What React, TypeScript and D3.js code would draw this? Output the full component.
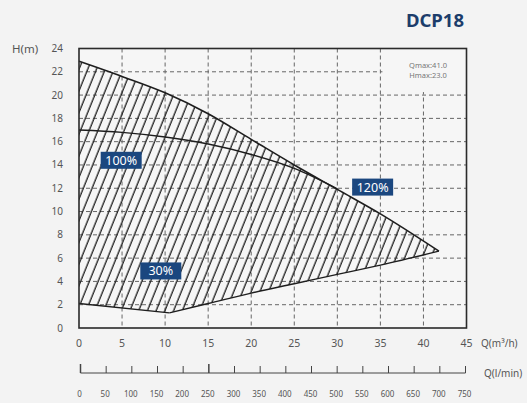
import React from "react";
import * as d3 from "d3";

const qTicks = [0, 5, 10, 15, 20, 25, 30, 35, 40, 45];
const hTicks = [0, 2, 4, 6, 8, 10, 12, 14, 16, 18, 20, 22, 24];
const lminTicks = [0, 50, 100, 150, 200, 250, 300, 350, 400, 450, 500, 550, 600, 650, 700, 750];

// Upper (120%) curve
const topQ = [0, 5, 10, 15, 20, 25, 30, 35, 41.8];
const topH = [22.9, 21.6, 20.2, 18.4, 16.2, 14.0, 11.9, 9.8, 6.6];
// 100% curve (joins upper curve near Q=30)
const midQ = [0, 5, 10, 15, 20, 25, 30];
const midH = [17.0, 16.8, 16.4, 15.8, 14.9, 13.7, 11.95];
// Lower (30%) boundary
const lowQ = [0, 10.5, 15, 20, 25, 30, 35, 41.8];
const lowH = [2.1, 1.3, 2.1, 3.0, 3.8, 4.6, 5.4, 6.6];

const labels = ["100%", "120%", "30%"];
const labelQ = [4.9, 34.1, 9.5];
const labelH = [14.4, 12.1, 4.9];

const W = 527, H = 403;
const x = d3.scaleLinear().domain([0, 45]).range([79, 466.5]);
const y = d3.scaleLinear().domain([0, 24]).range([328, 48.5]);
const xl = d3.scaleLinear().domain([0, 750]).range([80.5, 465.5]);

const navy = "#1b477f";

export default function App() {
  const topPts: [number, number][] = topQ.map((q, i) => [x(q), y(topH[i])]);
  const midPts: [number, number][] = midQ.map((q, i) => [x(q), y(midH[i])]);
  const lowPts: [number, number][] = lowQ.map((q, i) => [x(q), y(lowH[i])]);
  const curve = d3.line().curve(d3.curveMonotoneX);
  const lowLine = d3.line().curve(d3.curveLinear);
  const lowRight = d3.line().curve(d3.curveMonotoneX);

  const lowPath = lowLine(lowPts.slice(0, 2))!;
  const lowRightPath = lowRight(lowPts.slice(1))!;
  const topPath = curve(topPts)!;
  const area =
    topPath +
    "L" + lowRight(lowPts.slice(1).reverse())!.slice(1) +
    "L" + lowPts[0][0] + "," + lowPts[0][1] + "Z";

  return (
    <svg width={W} height={H} style={{ position: "absolute", left: 0, top: 0 }} fontFamily="'Noto Sans', Roboto, sans-serif">
      <defs>
        <pattern id="hatch" patternUnits="userSpaceOnUse" width={8.1} height={20} patternTransform="rotate(22)">
          <line x1={2} y1={-2} x2={2} y2={22} stroke="#1e1e1e" strokeWidth={1.3} />
        </pattern>
        <clipPath id="plotclip">
          <rect x={x(0)} y={y(24)} width={x(45) - x(0)} height={y(0) - y(24)} />
        </clipPath>
      </defs>
      <rect x={0} y={0} width={W} height={H} fill="#f3f3f3" />
      <rect x={x(0)} y={y(24)} width={x(45) - x(0)} height={y(0) - y(24)} fill="#f6f6f6" />

      {/* title */}
      <text x={464} y={27} textAnchor="end" fontSize={18.5} fontWeight={700} fill="#1c3d6b">DCP18</text>

      {/* grid */}
      {qTicks.slice(1, -1).map((q) => (
        <line key={"gx" + q} x1={x(q)} x2={x(q)} y1={y(24)} y2={y(0)} stroke="#666" strokeWidth={1} strokeDasharray="4,3" />
      ))}
      {hTicks.slice(1, -1).map((h) => (
        <line key={"gy" + h} x1={x(0)} x2={x(45)} y1={y(h)} y2={y(h)} stroke="#666" strokeWidth={1} strokeDasharray="4,3" />
      ))}
      {/* clear box behind Qmax/Hmax note */}
      <rect x={x(35) + 2} y={y(24)} width={x(45) - x(35) - 2} height={y(20) - y(24) - 3} fill="#f6f6f6" />

      {/* hatched region */}
      <path d={area} fill="url(#hatch)" clipPath="url(#plotclip)" />
      <path d={topPath} fill="none" stroke="#1e1e1e" strokeWidth={1.6} />
      <path d={curve(midPts)!} fill="none" stroke="#1e1e1e" strokeWidth={1.4} />
      <path d={lowPath} fill="none" stroke="#1e1e1e" strokeWidth={1.4} />
      <path d={lowRightPath} fill="none" stroke="#1e1e1e" strokeWidth={1.4} />

      {/* border */}
      <rect x={x(0)} y={y(24)} width={x(45) - x(0)} height={y(0) - y(24)} fill="none" stroke="#2a2a2a" strokeWidth={1.6} />

      {/* Qmax / Hmax */}
      <text x={428} y={67.5} textAnchor="middle" fontSize={7.5} fill="#777">Qmax:41.0</text>
      <text x={428} y={77.5} textAnchor="middle" fontSize={7.5} fill="#777">Hmax:23.0</text>

      {/* labels */}
      {labels.map((t, i) => (
        <g key={t}>
          <rect x={x(labelQ[i]) - 20.5} y={y(labelH[i]) - 8.5} width={41} height={17} fill={navy} />
          <text x={x(labelQ[i])} y={y(labelH[i]) + 4.5} textAnchor="middle" fontSize={12.5} fill="#fff">{t}</text>
        </g>
      ))}

      {/* y axis */}
      <text x={12} y={53} fontSize={11.5} fill="#555">H(m)</text>
      {hTicks.map((h) => (
        <text key={"yt" + h} x={63} y={y(h) + 3.5} textAnchor="end" fontSize={10} fill="#555">{h}</text>
      ))}

      {/* x axis */}
      {qTicks.map((q) => (
        <text key={"xt" + q} x={x(q)} y={347} textAnchor="middle" fontSize={10.5} fill="#555">{q}</text>
      ))}
      <text x={481} y={347} fontSize={10} fill="#555">Q(m³/h)</text>

      {/* l/min axis */}
      <line x1={xl(0)} x2={xl(750)} y1={373} y2={373} stroke="#444" strokeWidth={1} />
      {lminTicks.map((v) => (
        <line key={"lt" + v} x1={xl(v)} x2={xl(v)} y1={373} y2={v === 0 || v === 250 ? 364 : 366} stroke="#444" strokeWidth={v === 0 || v === 250 ? 1.5 : 1} />
      ))}
      <text x={484} y={377} fontSize={10} fill="#555">Q(l/min)</text>
      {lminTicks.map((v) => (
        <text key={"ll" + v} x={xl(v) - 1} y={397} textAnchor="middle" fontSize={8} fill="#555">{v}</text>
      ))}
    </svg>
  );
}
